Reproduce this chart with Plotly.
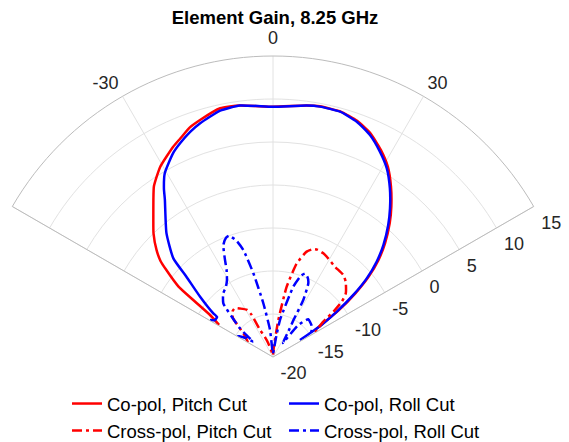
import plotly.graph_objects as go

# ---- data (angle in degrees, gain in dB) ----
theta_co_pitch = [-59.2, -56.3, -54.6, -53.3, -50.7, -49.5, -47.4, -44.0, -40.1, -37.3, -34.9, -30.7,
                  -25.4, -23.0, -19.9, -17.1, -12.0, -7.5, 0.0, 7.6, 10.6, 15.3, 19.6, 23.6, 27.5,
                  31.1, 34.7, 38.2, 41.1, 44.6, 47.4, 50.0, 52.3, 54.6, 57.3]
gain_co_pitch = [-12.7, -11.2, -8.9, -6.3, -3.9, -2.8, -1.6, 0.0, 1.6, 2.95, 4.2, 5.7,
                 7.06, 7.6, 8.4, 8.84, 9.57, 9.5, 9.1, 9.5, 9.65, 9.6, 9.15, 8.35, 7.15,
                 5.85, 4.1, 2.25, 0.65, -1.45, -3.35, -5.5, -7.9, -10.6, -14.2]

theta_co_roll = [-59.6, -57.5, -54.4, -53.8, -50.4, -47.1, -45.3, -40.7, -34.5, -32.9, -30.5, -26.1,
                 -23.5, -20.2, -17.3, -12.1, -7.5, 0.0, 7.6, 10.6, 15.3, 19.6, 23.6, 27.5,
                 31.1, 34.7, 38.2, 41.1, 44.6, 47.4, 50.0, 52.3, 54.6, 56.5, 57.2, 58.0]
gain_co_roll = [-11.5, -12.0, -12.0, -11.4, -9.0, -6.2, -3.7, -1.0, 2.2, 3.35, 4.8, 6.4,
                7.1, 7.9, 8.47, 9.3, 9.5, 9.1, 9.5, 9.62, 9.57, 9.04, 8.17, 6.92,
                5.62, 3.87, 2.0, 0.38, -1.72, -3.63, -5.77, -8.2, -10.9, -13.2, -14.6, -16.3]

theta_x_pitch = [-60.0, -57.1, -51.4, -45.8, -41.5, -38.0, -34.1, -29.2, -26.9, -25.7, -22.0, -18.9,
                 -10.0, -3.0, 3.0, 5.5, 8.2, 11.0, 14.2, 17.7, 20.5, 22.6, 25.9, 28.2, 34.5,
                 40.6, 44.0, 48.8, 51.2, 53.1, 54.9, 58.3, 60.0]
gain_x_pitch = [-16.6, -16.4, -15.6, -13.5, -12.9, -12.8, -13.2, -13.7, -14.5, -16.5, -17.5, -18.3,
                -19.6, -19.8, -19.5, -18.5, -15.65, -11.7, -8.8, -7.14, -6.6, -6.5, -6.6, -6.77, -7.27,
                -7.44, -7.83, -8.75, -9.74, -11.2, -12.85, -14.0, -14.3]

theta_x_roll = [-60.0, -58.5, -55.0, -52.2, -50.5, -49.0, -45.7, -42.8, -38.0, -34.0, -31.0, -28.0,
                -26.3, -23.9, -21.5, -20.0, -17.5, -15.5, -13.2, -10.2, -6.3, -2.0, 5.0, 9.0,
                10.7, 16.1, 19.0, 21.0, 23.5, 25.6, 28.0, 29.0, 31.5, 35.0, 38.3, 43.1, 50.4, 55.0, 60.0]
gain_x_roll = [-15.2, -15.4, -16.2, -17.1, -16.0, -14.9, -13.3, -11.5, -10.6, -10.2, -9.6, -8.5,
               -7.4, -5.75, -5.1, -5.0, -5.8, -7.1, -10.0, -13.65, -16.8, -19.6, -19.3, -17.5,
               -15.6, -11.5, -10.0, -9.6, -9.9, -10.5, -12.5, -15.1, -16.8, -18.0, -15.3, -14.0, -14.2, -14.5, -15.0]

angle_ticks = [-60, -30, 0, 30, 60]
angle_labels = ["", "-30", "0", "30", ""]
r_ticks = [-20, -15, -10, -5, 0, 5, 10, 15]
r_labels = ["-20", "-15", "-10", "-5", "0", "5", "10", "15"]

series = [
    ("Co-pol, Pitch Cut", theta_co_pitch, gain_co_pitch, "#ff0000", "solid"),
    ("Co-pol, Roll Cut", theta_co_roll, gain_co_roll, "#0000ff", "solid"),
    ("Cross-pol, Pitch Cut", theta_x_pitch, gain_x_pitch, "#ff0000", "10px,4px,3px,4px"),
    ("Cross-pol, Roll Cut", theta_x_roll, gain_x_roll, "#0000ff", "10px,4px,3px,4px"),
]

FONT = "Arial, Liberation Sans, sans-serif"
W, H = 569, 442

fig = go.Figure()
for name, th, g, col, dash in series:
    fig.add_trace(go.Scatterpolar(
        theta=th, r=g, mode="lines", name=name,
        line=dict(color=col, width=2.5, dash=dash, shape="spline", smoothing=0.5),
        hoverinfo="skip",
    ))

# geometry of the polar sector (pixels)
cx, cy, R = 273.0, 357.0, 301.0
x0 = cx - R * 0.8660254
x1 = cx + R * 0.8660254
ytop = cy - R

fig.update_layout(
    width=W, height=H,
    margin=dict(l=0, r=0, t=0, b=0, autoexpand=False),
    paper_bgcolor="white",
    font=dict(family=FONT, size=18, color="#262626"),
    title=dict(text="Element Gain, 8.25 GHz", x=275 / W, xanchor="center",
               y=1 - 18 / H, yanchor="middle", yref="container",
               font=dict(family=FONT, size=18.5, color="black", weight="bold")),
    showlegend=True,
    legend=dict(orientation="h", x=67 / W, xanchor="left", y=1 - 385 / H, yanchor="top",
                font=dict(family=FONT, size=18.5, color="black"),
                entrywidth=172, entrywidthmode="pixels",
                bgcolor="rgba(0,0,0,0)", borderwidth=0, tracegroupgap=0),
    polar=dict(
        domain=dict(x=[x0 / W, x1 / W], y=[1 - cy / H, 1 - ytop / H]),
        sector=[30, 150],
        bgcolor="white",
        angularaxis=dict(rotation=90, direction="clockwise", tickmode="array",
                         tickvals=angle_ticks, ticktext=angle_labels,
                         showgrid=True, gridcolor="#e2e2e2", gridwidth=1,
                         showline=True, linecolor="#bcbcbc", linewidth=1,
                         ticks="outside", ticklen=4, tickcolor="rgba(0,0,0,0)",
                         tickfont=dict(family=FONT, size=18, color="#262626")),
        radialaxis=dict(range=[-20, 15], tickmode="array", tickvals=r_ticks, ticktext=r_labels,
                        angle=30, side="clockwise", showline=False, tickangle=30,
                        showgrid=True, gridcolor="#e2e2e2", gridwidth=1,
                        ticks="outside", ticklen=2, tickcolor="rgba(0,0,0,0)",
                        tickfont=dict(family=FONT, size=18, color="#262626")),
    ),
)

fig.write_html("out.html", config={"displayModeBar": False},
               post_script="document.body.style.margin='0';document.body.style.padding='0';"
                           "document.body.style.overflow='hidden';")
